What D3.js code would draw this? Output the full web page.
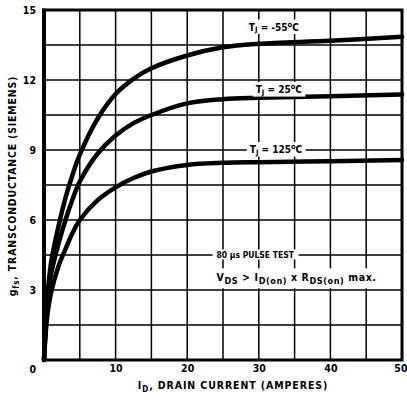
<!DOCTYPE html>
<html>
<head>
<meta charset="utf-8">
<script src="https://cdn.jsdelivr.net/npm/d3@7/dist/d3.min.js"></script>
<style>
  html, body { margin: 0; padding: 0; background: #fff; }
  svg { display: block; }
  text { font-family: "Liberation Sans Narrow", "DejaVu Sans Condensed", "Arial Narrow", sans-serif; font-weight: bold; fill: #000; }
</style>
</head>
<body>
<svg id="chart" width="407" height="400"></svg>
<script>
// Drain current (A) sample points shared by all three curves
const drainCurrent = [0, 0.25, 0.5, 1, 2, 3, 4, 5, 7.5, 10, 12.5, 15, 20, 25, 30, 40, 50];

// Forward transconductance (siemens) at each junction temperature
const gfsMinus55 = [0, 1.6, 2.8, 4.2, 5.7, 6.95, 7.95, 8.8, 10.35, 11.4, 12.05, 12.5, 13.05, 13.4, 13.55, 13.68, 13.85];
const gfs25      = [0, 1.5, 2.6, 3.7, 4.95, 6.0, 6.9, 7.65, 8.85, 9.62, 10.15, 10.5, 11.0, 11.18, 11.24, 11.3, 11.38];
const gfs125     = [0, 1.2, 2.0, 2.9, 4.0, 4.75, 5.45, 6.0, 6.85, 7.4, 7.8, 8.08, 8.36, 8.45, 8.48, 8.52, 8.57];

// Axis ticks
const xTickLabels = [10, 20, 30, 40, 50];
const yTickLabels = [0, 3, 6, 9, 12, 15];
const xGrid = d3.range(0, 50.01, 5);
const yGrid = d3.range(0, 15.01, 1.5);

// Curve labels: junction temperature and anchor (current, value)
const curveLabels = [
  { temp: "-55", at: [32.1, 14.25] },
  { temp: "25",  at: [32.8, 11.57] },
  { temp: "125", at: [32.4, 9.0] }
];

const svg = d3.select("#chart");
const plotLeft = 44, plotRight = 402, plotTop = 10, plotBottom = 360;

const x = d3.scaleLinear().domain([0, 50]).range([plotLeft, plotRight]);
const y = d3.scaleLinear().domain([0, 15]).range([plotBottom, plotTop]);

// Grid
const grid = svg.append("g").attr("stroke", "#000").attr("stroke-width", 1.5);
grid.selectAll("line.v").data(xGrid).enter().append("line")
  .attr("x1", d => x(d)).attr("x2", d => x(d))
  .attr("y1", plotTop).attr("y2", plotBottom);
grid.selectAll("line.h").data(yGrid).enter().append("line")
  .attr("y1", d => y(d)).attr("y2", d => y(d))
  .attr("x1", plotLeft).attr("x2", plotRight);

// Curves
const series = [gfsMinus55, gfs25, gfs125];
const line = d3.line()
  .x((d, i) => x(drainCurrent[i]))
  .y(d => y(d))
  .curve(d3.curveCatmullRom.alpha(0.5));
svg.append("g").selectAll("path").data(series).enter().append("path")
  .attr("d", d => line(d))
  .attr("fill", "none")
  .attr("stroke", "#000")
  .attr("stroke-width", 4.5)
  .attr("stroke-linecap", "round")
  .attr("stroke-linejoin", "round");

// Frame
svg.append("rect")
  .attr("x", plotLeft).attr("y", plotTop)
  .attr("width", plotRight - plotLeft).attr("height", plotBottom - plotTop)
  .attr("fill", "none").attr("stroke", "#000").attr("stroke-width", 3);
svg.append("line")
  .attr("x1", plotLeft).attr("x2", plotLeft).attr("y1", plotTop - 1.5).attr("y2", plotBottom + 1.5)
  .attr("stroke", "#000").attr("stroke-width", 4);

// Axes (labels only)
const xAxis = d3.axisBottom(x).tickValues(xTickLabels).tickSize(0).tickPadding(5);
const gx = svg.append("g").attr("transform", `translate(0,${plotBottom})`).call(xAxis);
gx.select(".domain").remove();
gx.selectAll(".tick").filter(d => d === 50).select("text")
  .attr("text-anchor", "end").attr("x", 5);

const yAxis = d3.axisLeft(y).tickValues(yTickLabels).tickSize(0).tickPadding(8);
const gy = svg.append("g").attr("transform", `translate(${plotLeft},0)`).call(yAxis);
gy.select(".domain").remove();
gy.selectAll(".tick").filter(d => d === 0).select("text").attr("dy", "1.15em");

svg.selectAll(".tick text")
  .attr("font-size", 10.5)
  .attr("font-family", null)
  .style("font-weight", "bold");
gx.attr("font-family", null).attr("font-size", null);
gy.attr("font-family", null).attr("font-size", null);

// Axis titles
const xt = svg.append("text")
  .attr("x", 233).attr("y", 389)
  .attr("text-anchor", "middle").attr("font-size", 10.5)
  .attr("letter-spacing", 0.9);
xt.append("tspan").text("I");
xt.append("tspan").attr("font-size", 8).attr("dy", 3).text("D");
xt.append("tspan").attr("dy", -3).text(", DRAIN CURRENT (AMPERES)");

const yt = svg.append("text")
  .attr("transform", "translate(16,186) rotate(-90)")
  .attr("text-anchor", "middle").attr("font-size", 10.5)
  .attr("letter-spacing", 0.8);
yt.append("tspan").text("g");
yt.append("tspan").attr("font-size", 8).attr("dy", 3).text("fs");
yt.append("tspan").attr("dy", -3).text(", TRANSCONDUCTANCE (SIEMENS)");

// Add a white backing behind a text node so grid lines break around it
function backWith(textSel, padX, padY) {
  const b = textSel.node().getBBox();
  return svg.insert("rect", function() { return textSel.node(); })
    .attr("x", b.x - padX).attr("y", b.y - padY)
    .attr("width", b.width + 2 * padX).attr("height", b.height + 2 * padY)
    .attr("fill", "#fff");
}

// Temperature labels
curveLabels.forEach(l => {
  const t = svg.append("text")
    .attr("x", x(l.at[0])).attr("y", y(l.at[1]))
    .attr("text-anchor", "middle").attr("font-size", 10)
    .attr("dominant-baseline", "middle");
  t.append("tspan").text("T");
  t.append("tspan").attr("font-size", 7.5).attr("dy", 2.5).text("J");
  t.append("tspan").attr("dy", -2.5).text(" = " + l.temp);
  t.append("tspan").attr("font-size", 7.5).attr("dy", -3).text("o");
  t.append("tspan").attr("dy", 3).text("C");
  backWith(t, 3, 0);
});

// Test condition notes
const cond = svg.append("text")
  .attr("x", x(24.1)).attr("y", y(3.5))
  .attr("font-size", 10.5).attr("letter-spacing", 0.6)
  .attr("dominant-baseline", "middle");
cond.append("tspan").text("V");
cond.append("tspan").attr("font-size", 9).attr("dy", 2.5).text("DS");
cond.append("tspan").attr("dy", -2.5).text(" > I");
cond.append("tspan").attr("font-size", 9).attr("dy", 2.5).text("D(on)");
cond.append("tspan").attr("dy", -2.5).text(" x R");
cond.append("tspan").attr("font-size", 9).attr("dy", 2.5).text("DS(on)");
cond.append("tspan").attr("dy", -2.5).text(" max.");
backWith(cond, 4, 3);

const pulse = svg.append("text")
  .attr("x", x(29.5)).attr("y", y(4.5))
  .attr("text-anchor", "middle").attr("dominant-baseline", "middle")
  .attr("font-size", 8.5).text("80 \u00b5s PULSE TEST");
backWith(pulse, 4, 0);
</script>
</body>
</html>
